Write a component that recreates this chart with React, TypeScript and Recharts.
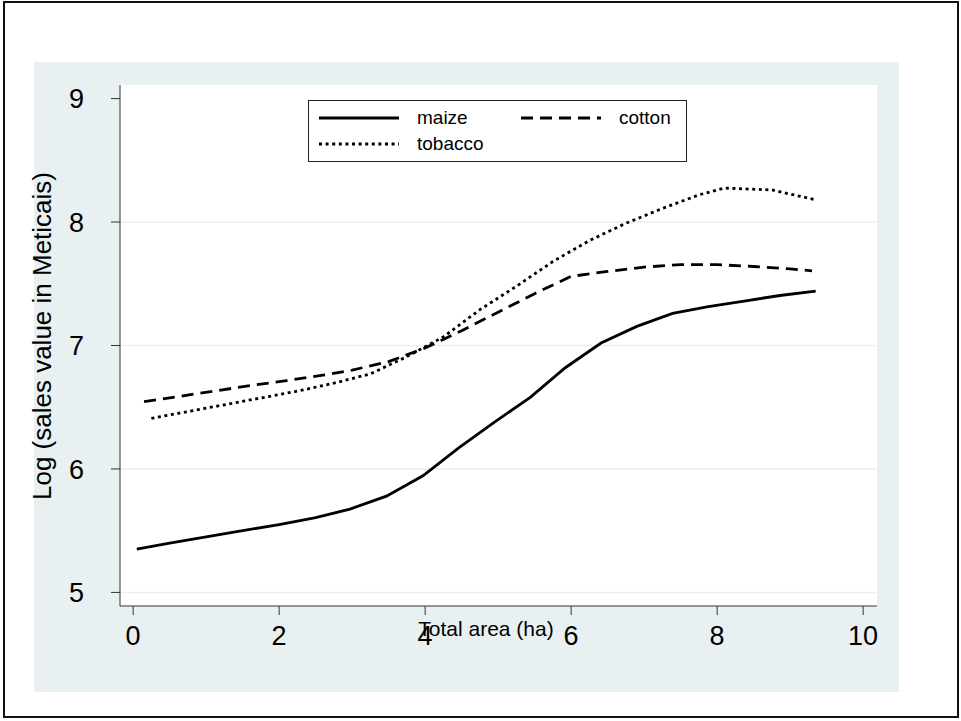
import React from "react"
import { LineChart, Line, XAxis, YAxis, CartesianGrid, ReferenceLine } from "recharts"

// smoothed curves
const MAIZE_X = [0.05, 0.5, 1, 1.5, 2, 2.5, 2.97, 3.47, 3.97, 4.46, 4.95, 5.44, 5.92, 6.41, 6.9, 7.39, 7.88, 8.37, 8.86, 9.35]
const MAIZE_Y = [5.35, 5.4, 5.45, 5.5, 5.55, 5.605, 5.675, 5.78, 5.945, 6.17, 6.38, 6.58, 6.82, 7.02, 7.155, 7.26, 7.315, 7.36, 7.405, 7.44]

const COTTON_X = [0.15, 0.6, 1.1, 1.6, 2.1, 2.6, 3.0, 3.5, 4.0, 4.5, 5.0, 5.5, 6.0, 6.5, 7.0, 7.5, 8.0, 8.5, 9.0, 9.3]
const COTTON_Y = [6.545, 6.585, 6.63, 6.675, 6.715, 6.76, 6.8, 6.87, 6.98, 7.12, 7.27, 7.42, 7.56, 7.6, 7.635, 7.655, 7.655, 7.64, 7.62, 7.605]

const TOBACCO_X = [0.25, 0.75, 1.25, 1.75, 2.25, 2.75, 3.25, 3.75, 4.25, 4.75, 5.25, 5.75, 6.25, 6.75, 7.25, 7.75, 8.1, 8.75, 9.35]
const TOBACCO_Y = [6.41, 6.465, 6.52, 6.575, 6.63, 6.695, 6.77, 6.91, 7.07, 7.29, 7.48, 7.68, 7.85, 7.99, 8.11, 8.22, 8.275, 8.26, 8.18]

const X_TICKS = [0, 2, 4, 6, 8, 10]
const Y_TICKS = [5, 6, 7, 8, 9]
const GRID_Y = [5, 6, 7, 8]

const toPoints = (xs: number[], ys: number[]) => xs.map((x, i) => ({ x, y: ys[i] }))

const SERIES = [
  { name: "maize", data: toPoints(MAIZE_X, MAIZE_Y), dash: undefined },
  { name: "cotton", data: toPoints(COTTON_X, COTTON_Y), dash: "12 7" },
  { name: "tobacco", data: toPoints(TOBACCO_X, TOBACCO_Y), dash: "3 3.6" },
]

const FONT = "'Liberation Sans', Arial, sans-serif"

const LegendBox = () => (
  <div
    style={{
      position: "absolute",
      left: 308,
      top: 100,
      width: 379,
      height: 62,
      border: "1px solid #222",
      background: "#fff",
      boxSizing: "border-box",
      paddingTop: 4,
      display: "grid",
      gridTemplateColumns: "202px 170px",
      gridAutoRows: "26px",
    }}
  >
    {SERIES.map((s) => (
      <div key={s.name} style={{ display: "flex", alignItems: "center" }}>
        <svg width={82} height={10} style={{ marginLeft: 10, flexShrink: 0 }}>
          <line x1={0} y1={5} x2={80} y2={5} stroke="#000" strokeWidth={2.8} strokeDasharray={s.dash} />
        </svg>
        <span style={{ marginLeft: 16, fontSize: 19 }}>{s.name}</span>
      </div>
    ))}
  </div>
)

export default function App() {
  return (
    <div style={{ position: "absolute", left: 0, top: 0, width: 961, height: 721, background: "#fff", fontFamily: FONT }}>
      <div
        style={{
          position: "absolute",
          left: 3,
          top: 1,
          width: 956,
          height: 717,
          border: "2px solid #111",
          boxSizing: "border-box",
        }}
      />
      <div style={{ position: "absolute", left: 34, top: 62, width: 865, height: 630, background: "#e8f0f2" }} />
      <div style={{ position: "absolute", left: 0, top: 0 }}>
        <LineChart width={961} height={721} margin={{ top: 85, right: 84, bottom: 55, left: 35 }}>
          <CartesianGrid fill="#fff" horizontal={false} vertical={false} />
          {GRID_Y.map((g) => (
            <ReferenceLine key={g} y={g} stroke="#e8f0f2" strokeWidth={1.5} />
          ))}
          <XAxis
            type="number"
            dataKey="x"
            domain={[-0.18, 10.19]}
            ticks={X_TICKS}
            allowDataOverflow
            height={60}
            tickSize={9}
            tickMargin={11}
            stroke="#333"
            tick={{ fill: "#000", fontSize: 27, fontFamily: FONT }}
          />
          <YAxis
            type="number"
            dataKey="y"
            domain={[4.89, 9.11]}
            ticks={Y_TICKS}
            allowDataOverflow
            width={85}
            tickSize={9}
            tickMargin={27}
            stroke="#333"
            tick={{ fill: "#000", fontSize: 27, fontFamily: FONT }}
          />
          {SERIES.map((s) => (
            <Line
              key={s.name}
              data={s.data}
              dataKey="y"
              name={s.name}
              type="linear"
              stroke="#000"
              strokeWidth={2.8}
              strokeDasharray={s.dash}
              dot={false}
              activeDot={false}
              isAnimationActive={false}
            />
          ))}
        </LineChart>
      </div>
      <LegendBox />
      <div
        style={{
          position: "absolute",
          left: 286,
          top: 617,
          width: 400,
          textAlign: "center",
          fontSize: 21,
          lineHeight: "24px",
        }}
      >
        Total area (ha)
      </div>
      <div
        style={{
          position: "absolute",
          left: 42 - 200,
          top: 336 - 14,
          width: 400,
          height: 28,
          textAlign: "center",
          fontSize: 26,
          lineHeight: "28px",
          transform: "rotate(-90deg)",
        }}
      >
        Log (sales value in Meticais)
      </div>
    </div>
  )
}
